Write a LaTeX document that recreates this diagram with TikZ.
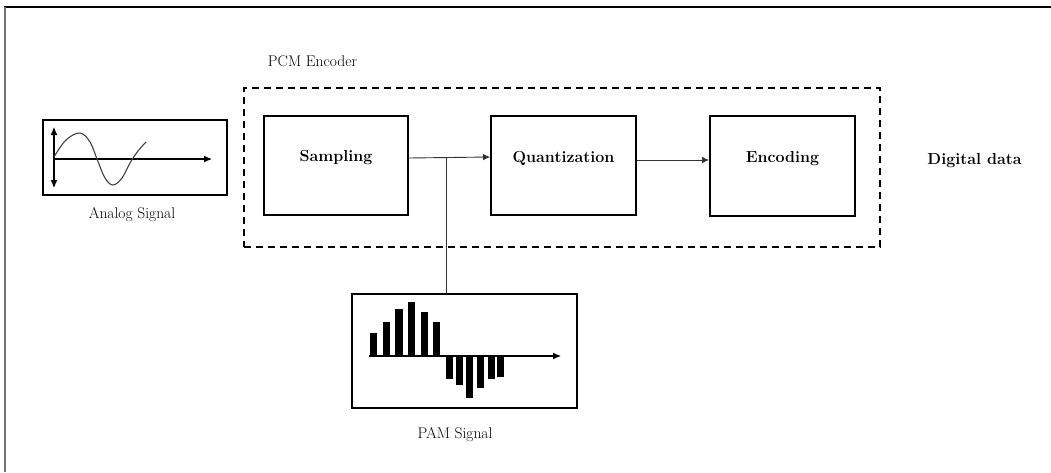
\documentclass[tikz,border=0pt]{standalone}
\usetikzlibrary{arrows.meta}
\begin{document}
\begin{tikzpicture}[x=1pt,y=-1pt,
  box/.style={draw=black,line width=1.7pt,minimum width=#1,inner sep=0pt},
  lbl/.style={font=\fontsize{15.5}{18}\selectfont},
  blbl/.style={font=\fontsize{16}{19}\selectfont\bfseries},
  arr/.style={draw=black!80,line width=0.9pt,-{Latex[length=7pt,width=6.5pt]}},
  conn/.style={draw=black!80,line width=0.9pt},
  axis/.style={draw=black,line width=1.1pt},
  bar/.style={fill=black}]
\useasboundingbox (0,0) rectangle (1051,472);
% outer frame
\draw[black,line width=1.8pt] (4,7) -- (1051,7);
\draw[black!55,line width=2.2pt] (5,7) -- (5,472);

% analog signal
\node[box=184pt,minimum height=75pt] (analog) at (135,157.5) {};
\draw[axis,{Latex[length=8pt,width=7pt]}-{Latex[length=8pt,width=7pt]}] (54,127) -- (54,188);
\draw[axis,-{Latex[length=8pt,width=7pt]}] (54,159) -- (212,159);
\draw[black!75,line width=1.1pt] plot[smooth,tension=0.6] coordinates {(54,157) (66,140) (80,133) (90,142) (97,159) (105,178) (113,185) (122,178) (130,163) (138,151) (146,142)};
\node[lbl] (analoglbl) at (132,215) {Analog Signal};

% PCM encoder
\node[lbl] (pcmlbl) at (312.5,61) {PCM Encoder};
\node[draw=black,line width=1.6pt,dash pattern=on 7pt off 5pt,minimum width=636pt,minimum height=159pt,inner sep=0pt] (pcm) at (562,167.5) {};

\node[box=144pt,minimum height=99pt,label={[blbl,yshift=7.5pt]center:Sampling}] (samp) at (336,165.5) {};
\node[box=145pt,minimum height=99pt,label={[blbl,yshift=7.5pt]center:Quantization}] (quant) at (563.5,165.5) {};
\node[box=145pt,minimum height=100pt,label={[blbl,yshift=7pt]center:Encoding}] (enc) at (782.5,166) {};

\node[blbl] (digital) at (974.5,161) {Digital data};

% connectors
\draw[arr] ([yshift=7.5pt]samp.east) -- ([yshift=8.5pt]quant.west);
\draw[arr] ([yshift=5.5pt]quant.east) -- ([yshift=6pt]enc.west);
\coordinate (j) at (446,158);

% PAM signal
\node[box=225pt,minimum height=114pt] (pam) at (464.5,351) {};
\draw[conn] (j) -- (j |- pam.north);
\draw[axis,-{Latex[length=8pt,width=7pt]}] (369,356) -- (561,356);
\foreach \a/\b/\t in {370/377/333, 383/390/322, 395/403/309, 408/415/302, 421/428/312, 433/440/322}
  \fill[bar] (\a,356) rectangle (\b,\t);
\foreach \a/\b/\t in {446/453/379, 456/463/385, 466/473/398, 477/484/388, 488/495/379, 497/504/377}
  \fill[bar] (\a,356) rectangle (\b,\t);
\node[lbl] (pamlbl) at (455,435) {PAM Signal};
\end{tikzpicture}
\end{document}
